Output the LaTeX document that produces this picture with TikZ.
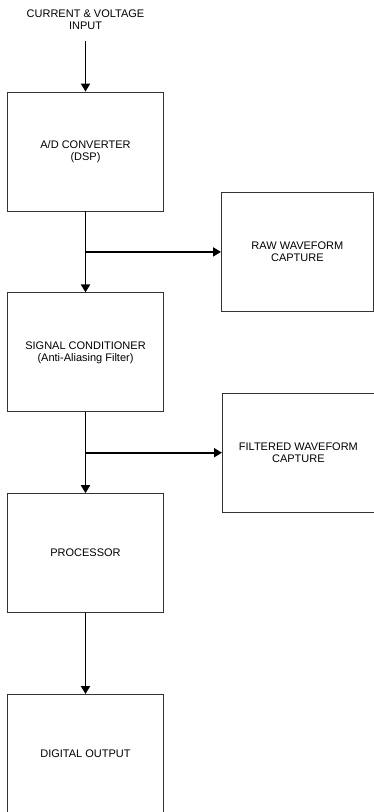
\documentclass[tikz,border=0pt]{standalone}
\usepackage{fontspec}
\setmainfont{Liberation Sans}
\usetikzlibrary{positioning, arrows.meta, calc}

\begin{document}
\begin{tikzpicture}[
      x=1pt, y=1pt,
      font=\fontsize{11}{12}\selectfont,
      block/.style={rectangle, draw=black!80, line width=0.8pt, minimum width=156pt, minimum height=119pt, align=center, inner sep=0pt},
      sidebox/.style={block, minimum width=152pt},
      flow/.style={-{Triangle[length=8pt, width=9pt]}, line width=1.8pt},
      node distance=81pt
    ]
      \useasboundingbox (0,0) rectangle (374,-812);

      % main chain
      \node[align=center] (input) at (85.5,-20) {CURRENT \& VOLTAGE\\INPUT};
      \node[block] (adc) at (85.5,-151.5) {A/D CONVERTER\\(DSP)};
      \node[block, below=of adc] (cond) {SIGNAL CONDITIONER\\(Anti-Aliasing Filter)};
      \node[block, below=of cond] (proc) {PROCESSOR};
      \node[block, below=of proc] (dout) {DIGITAL OUTPUT};

      % captures
      \coordinate (tap1) at ($(adc.south)!0.5!(cond.north)$);
      \coordinate (tap2) at ($(cond.south)!0.5!(proc.north)$);
      \node[sidebox, anchor=west] (raw) at ([xshift=135.5pt]tap1) {RAW WAVEFORM\\CAPTURE};
      \node[sidebox, anchor=west] (filt) at ([xshift=136.5pt]tap2) {FILTERED WAVEFORM\\CAPTURE};

      % arrows
      \draw[flow] ([yshift=-8pt]input.south) -- (adc.north);
      \draw[flow] (adc) -- (cond);
      \draw[flow] (cond) -- (proc);
      \draw[flow] (proc) -- (dout);
      \draw[flow] (tap1) -- (raw.west);
      \draw[flow] (tap2) -- (filt.west);
    \end{tikzpicture}
\end{document}
